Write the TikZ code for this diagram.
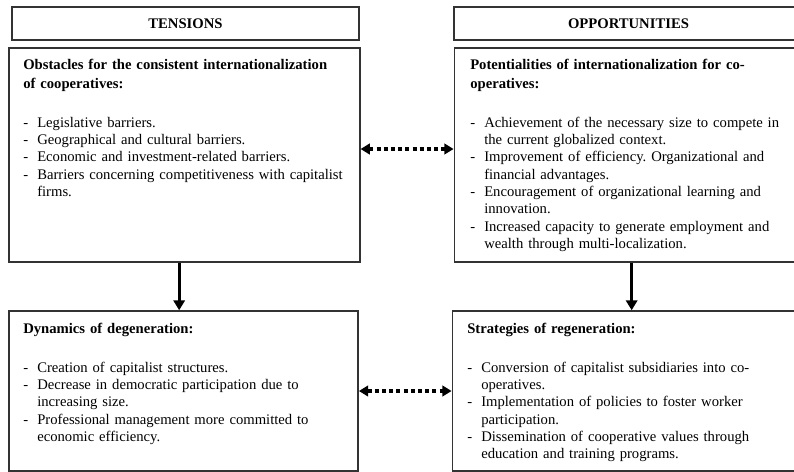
\documentclass[tikz,border=0pt]{standalone}
\usepackage{fontspec}
\setmainfont{Liberation Serif}
\usetikzlibrary{arrows.meta}

\newcommand{\boxhead}[1]{{\bfseries\fontsize{11pt}{14.25pt}\selectfont #1\par}\vspace{16pt}}
\newcommand{\dashitem}[1]{\hangindent=10.5pt\hangafter=1\noindent\makebox[10.5pt][l]{-}#1\par}

\tikzset{
  panel/.style={draw=black!80, line width=1.1pt, inner sep=0pt, minimum width=262pt},
  headbox/.style={panel, minimum height=24.75pt, font=\fontsize{11pt}{13pt}\selectfont\bfseries},
  bodytext/.style={anchor=north west, inner sep=0pt, text width=255pt, font=\fontsize{11pt}{13pt}\selectfont\raggedright\frenchspacing},
  flow/.style={line width=2.2pt, -{Triangle[length=7.5pt,width=8.5pt]}},
  link/.style={line width=2.6pt, dash pattern=on 3pt off 2.4pt, {Triangle[length=7pt,width=8pt]}-{Triangle[length=7pt,width=8pt]}},
}

\begin{document}
\begin{tikzpicture}[x=0.75pt,y=-0.75pt]
  \useasboundingbox (0,0) rectangle (794,472);
  \clip (0,0) rectangle (794,472);

  % Headings
  \node[headbox, minimum width=260pt] (tens) at (185.5,23.5) {TENSIONS};
  \node[headbox] (opps) at (628.5,23.5) {OPPORTUNITIES};

  % Boxes
  \node[panel, minimum width=263pt, minimum height=160.5pt] (obst) at (184.5,155) {};
  \node[panel, minimum height=160.5pt] (pot) at (629,155) {};
  \node[panel, minimum height=120pt] (degen) at (183.5,391) {};
  \node[panel, minimum height=120pt] (strat) at (627,391) {};

  % Texts
  \node[bodytext] (obsttxt) at (23,59) {\boxhead{Obstacles for the consistent internationalization\\ of cooperatives:}
    \dashitem{Legislative barriers.}
    \dashitem{Geographical and cultural barriers.}
    \dashitem{Economic and investment-related barriers.}
    \dashitem{Barriers concerning competitiveness with capitalist\newline firms.}};
  \node[bodytext] (pottxt) at (470,59) {\boxhead{Potentialities of internationalization for co-\\ operatives:}
    \dashitem{Achievement of the necessary size to compete in\newline the current globalized context.}
    \dashitem{Improvement of efficiency. Organizational and\newline financial advantages.}
    \dashitem{Encouragement of organizational learning and\newline innovation.}
    \dashitem{Increased capacity to generate employment and\newline wealth through multi-localization.}};
  \node[bodytext] (degentxt) at (23,323) {\boxhead{Dynamics of degeneration:}
    \dashitem{Creation of capitalist structures.}
    \dashitem{Decrease in democratic participation due to\newline increasing size.}
    \dashitem{Professional management more committed to\newline economic efficiency.}};
  \node[bodytext] (strattxt) at (467,323) {\boxhead{Strategies of regeneration:}
    \dashitem{Conversion of capitalist subsidiaries into co-\newline operatives.}
    \dashitem{Implementation of policies to foster worker\newline participation.}
    \dashitem{Dissemination of cooperative values through\newline education and training programs.}};

  % Arrows
  \draw[flow] ([xshift=-4pt]obst.south) -- ([xshift=-4pt]obst.south |- degen.north);
  \draw[flow] ([xshift=2pt]pot.south) -- ([xshift=2pt]pot.south |- strat.north);
  \draw[link] ([yshift=4.5pt]obst.east) -- ([yshift=4.5pt]pot.west);
  \draw[link] (degen.east) -- (strat.west);
\end{tikzpicture}
\end{document}
